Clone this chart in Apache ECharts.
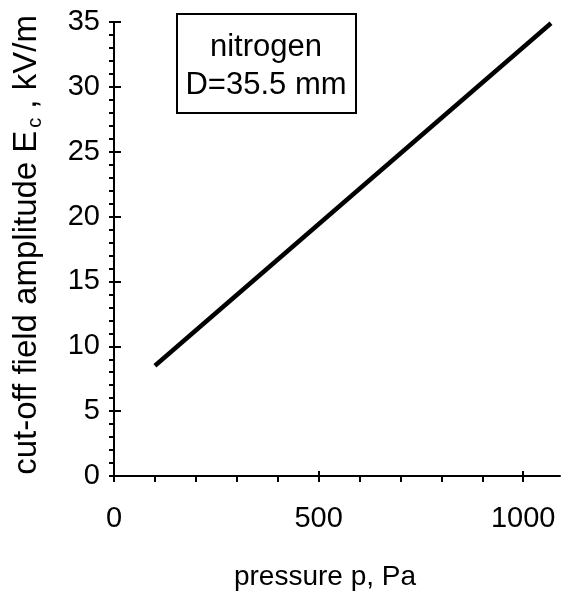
<!DOCTYPE html>
<html>
<head>
<meta charset="utf-8">
<script src="https://cdn.jsdelivr.net/npm/echarts@6/dist/echarts.min.js"></script>
<style>html,body{margin:0;padding:0;background:#fff}#c{width:565px;height:596px}</style>
</head>
<body>
<div id="c"></div>
<script>
// Data
var pressure = [100, 1068];          // p, Pa
var cutoffField = [8.5, 34.9];       // E_c, kV/m
var xMajorTicks = [0, 500, 1000];
var xMinorTicks = [0, 100, 200, 300, 400, 500, 600, 700, 800, 900, 1000];
var boxLines = ['nitrogen', 'D=35.5 mm'];

var FONT = 'Liberation Sans, Arial, sans-serif';
var chart = echarts.init(document.getElementById('c'), null, {renderer: 'canvas'});
var data = pressure.map(function (p, i) { return [p, cutoffField[i]]; });

var baseX = {
  type: 'value', min: 0, max: 1090, position: 'bottom', offset: 0,
  splitLine: {show: false}
};
var baseY = {
  type: 'value', min: 0, max: 35, interval: 5, position: 'left', offset: 0,
  splitLine: {show: false}
};

chart.setOption({
  animation: false,
  backgroundColor: '#fff',
  grid: {left: 114, top: 22, right: 5, bottom: 118, containLabel: false},
  xAxis: [
    Object.assign({}, baseX, {
      name: 'pressure p, Pa', nameLocation: 'middle', nameGap: 87,
      nameTextStyle: {fontFamily: FONT, fontSize: 28, color: '#000', padding: [0, 24, 0, 0]},
      axisLine: {show: true, lineStyle: {color: '#000', width: 2}},
      axisTick: {show: true, inside: false, length: 6, customValues: xMinorTicks, lineStyle: {color: '#000', width: 2}},
      axisLabel: {show: true, customValues: xMajorTicks, margin: 28, fontFamily: FONT, fontSize: 29, color: '#000',
        formatter: function (v) { return String(v); }}
    }),
    Object.assign({}, baseX, {
      axisLine: {show: false},
      axisTick: {show: true, inside: true, length: 5, customValues: xMajorTicks, lineStyle: {color: '#000', width: 2}},
      axisLabel: {show: false}
    })
  ],
  yAxis: [
    Object.assign({}, baseY, {
      name: '{a|cut-off field amplitude E}{s|c}{a|, kV/m}', nameLocation: 'middle', nameGap: 69,
      nameTextStyle: {
        fontFamily: FONT, fontSize: 33, color: '#000', padding: [0, 0, 0, 8],
        rich: {
          a: {fontFamily: FONT, fontSize: 33, color: '#000', lineHeight: 37},
          s: {fontFamily: FONT, fontSize: 20, color: '#000', lineHeight: 20, verticalAlign: 'bottom', padding: [0, 9, 0, 3]}
        }
      },
      axisLine: {show: true, lineStyle: {color: '#000', width: 2}},
      axisTick: {show: true, inside: false, length: 5, lineStyle: {color: '#000', width: 2}},
      minorTick: {show: true, splitNumber: 5, length: 5, lineStyle: {color: '#000', width: 2}},
      axisLabel: {show: true, margin: 14, fontFamily: FONT, fontSize: 29, color: '#000'}
    }),
    Object.assign({}, baseY, {
      axisLine: {show: false},
      axisTick: {show: true, inside: true, length: 7, lineStyle: {color: '#000', width: 2}},
      axisLabel: {show: false}
    })
  ],
  graphic: [
    {type: 'rect', left: 176, top: 13, shape: {width: 179, height: 99}, style: {fill: '#fff', stroke: '#000', lineWidth: 2}, z: 10},
    {type: 'text', x: 266, y: 66, z: 11, style: {text: boxLines.join('\n'), fontFamily: FONT, fontSize: 31, fill: '#000', align: 'center', verticalAlign: 'middle', lineHeight: 38}}
  ],
  series: [{
    type: 'line', xAxisIndex: 0, yAxisIndex: 0, data: data, showSymbol: false, symbol: 'none',
    lineStyle: {color: '#000', width: 4.5}, clip: false
  }]
});
</script>
</body>
</html>
